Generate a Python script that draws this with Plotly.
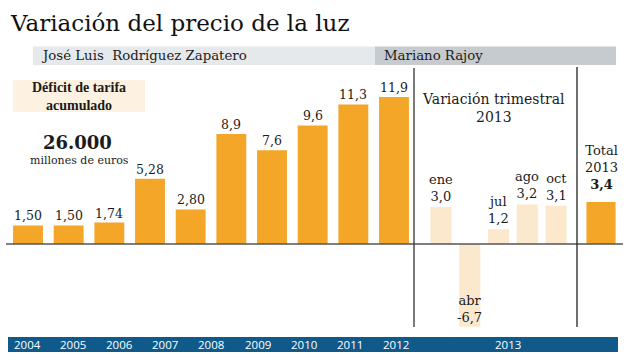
import plotly.graph_objects as go

# ---------------- data ----------------
years_bar = ["a1", "a2", "a3", "a4", "a5", "a6", "a7", "a8", "a9", "a10"]
annual_values = [1.50, 1.50, 1.74, 5.28, 2.80, 8.9, 7.6, 9.6, 11.3, 11.9]
annual_labels = ["1,50", "1,50", "1,74", "5,28", "2,80", "8,9", "7,6", "9,6", "11,3", "11,9"]

quarters = ["ene", "abr", "jul", "ago", "oct"]
quarter_values = [3.0, -6.7, 1.2, 3.2, 3.1]
quarter_labels = ["3,0", "-6,7", "1,2", "3,2", "3,1"]

total_cat = ["Total"]
total_values = [3.4]
total_labels = ["3,4"]

year_ticks = ["2004", "2005", "2006", "2007", "2008", "2009", "2010", "2011", "2012"]
year_2013 = "2013"

# ---------------- style ----------------
W, H = 644, 362
ORANGE = "#f4a628"
LIGHT = "#fce9cd"
SERIF = "DejaVu Serif, Liberation Serif, serif"
SERIF_B = "Liberation Serif, DejaVu Serif, serif"
SANS = "Open Sans, Lato, sans-serif"
TXT = "#1b1b1b"
PX_PER_UNIT = 12.35
ZERO_PX = 244


def px(x):
    return x / W


def py(y):
    return 1 - y / H


fig = go.Figure()

fig.add_trace(go.Bar(x=years_bar, y=annual_values, marker_color=ORANGE,
                     marker_line_width=0, xaxis="x", yaxis="y", hoverinfo="skip"))
fig.add_trace(go.Bar(x=quarters, y=quarter_values, marker_color=LIGHT,
                     marker_line_width=0, xaxis="x2", yaxis="y", hoverinfo="skip"))
fig.add_trace(go.Bar(x=total_cat, y=total_values, marker_color=ORANGE,
                     marker_line_width=0, xaxis="x3", yaxis="y", hoverinfo="skip"))

annotations = []
# title
annotations.append(dict(text="Variación del precio de la luz", xref="paper", yref="paper",
                        x=px(8), y=py(22.5), xanchor="left", yanchor="middle", showarrow=False,
                        font=dict(family=SERIF, size=23, color="#111")))
# header band texts
annotations.append(dict(text="José Luis\u00a0 Rodríguez Zapatero", xref="paper", yref="paper",
                        x=px(39), y=py(55.5), xanchor="left", yanchor="middle", showarrow=False,
                        font=dict(family=SERIF, size=13.3, color=TXT)))
annotations.append(dict(text="Mariano Rajoy", xref="paper", yref="paper",
                        x=px(382), y=py(55.5), xanchor="left", yanchor="middle", showarrow=False,
                        font=dict(family=SERIF, size=13.3, color=TXT)))
# left notes
annotations.append(dict(text="<b>Déficit de tarifa<br>acumulado</b>", xref="paper", yref="paper",
                        x=px(79), y=py(96), xanchor="center", yanchor="middle", showarrow=False,
                        font=dict(family=SERIF_B, size=14, color=TXT)))
annotations.append(dict(text="<b>26.000</b>", xref="paper", yref="paper",
                        x=px(77), y=py(143), xanchor="center", yanchor="middle", showarrow=False,
                        font=dict(family=SERIF, size=18, color=TXT)))
annotations.append(dict(text="millones de euros", xref="paper", yref="paper",
                        x=px(79), y=py(161), xanchor="center", yanchor="middle", showarrow=False,
                        font=dict(family=SERIF, size=11, color=TXT)))
# annual bar labels
for c, v, lab in zip(years_bar, annual_values, annual_labels):
    annotations.append(dict(text=lab, xref="x", yref="y", x=c, y=v, xanchor="center",
                            yanchor="bottom", showarrow=False, yshift=0,
                            font=dict(family=SERIF, size=12.5, color=TXT)))
# quarterly
annotations.append(dict(text="Variación trimestral<br>2013", xref="paper", yref="paper",
                        x=px(493), y=py(108), xanchor="center", yanchor="middle", showarrow=False,
                        font=dict(family=SERIF, size=14, color=TXT)))
for c, v, lab in zip(quarters, quarter_values, quarter_labels):
    annotations.append(dict(text=f"{c}<br>{lab}", xref="x2", yref="y", x=c, y=v,
                            xanchor="center", yanchor="bottom", showarrow=False,
                            yshift=1 if v > 0 else 0,
                            font=dict(family=SERIF, size=13, color=TXT)))
# total
for c, v, lab in zip(total_cat, total_values, total_labels):
    annotations.append(dict(text=f"Total<br>2013<br><b>{lab}</b>", xref="x3", yref="y", x=c, y=v,
                            xanchor="center", yanchor="bottom", showarrow=False, yshift=8,
                            font=dict(family=SERIF, size=13, color=TXT)))
# bottom band year labels
for i, t in enumerate(year_ticks):
    annotations.append(dict(text=t, xref="paper", yref="paper", x=px(27 + i * 46.1), y=py(344.5),
                            xanchor="center", yanchor="middle", showarrow=False,
                            font=dict(family=SANS, size=11.5, color="white")))
annotations.append(dict(text=year_2013, xref="paper", yref="paper", x=px(508), y=py(344.5),
                        xanchor="center", yanchor="middle", showarrow=False,
                        font=dict(family=SANS, size=11.5, color="white")))

shapes = [
    # header bands
    dict(type="rect", xref="paper", yref="paper", x0=px(33), x1=px(375), y0=py(65), y1=py(46.5),
         fillcolor="#e6e9ec", line_width=0, layer="below"),
    dict(type="rect", xref="paper", yref="paper", x0=px(375), x1=px(616), y0=py(65), y1=py(46.5),
         fillcolor="#c6cbd0", line_width=0, layer="below"),
    # deficit box
    dict(type="rect", xref="paper", yref="paper", x0=px(13), x1=px(145), y0=py(112), y1=py(80),
         fillcolor="#fdf1e1", line_width=0, layer="below"),
    # bottom band
    dict(type="rect", xref="paper", yref="paper", x0=px(8), x1=px(618), y0=py(352), y1=py(337),
         fillcolor="#0f5a8b", line_width=0, layer="below"),
    # zero line
    dict(type="line", xref="paper", yref="y", x0=px(6), x1=px(623), y0=0, y1=0,
         line=dict(color="#555555", width=1.5)),
    # separators
    dict(type="line", xref="paper", yref="paper", x0=px(414), x1=px(414), y0=py(68), y1=py(327),
         line=dict(color="#333333", width=1.3)),
    dict(type="line", xref="paper", yref="paper", x0=px(577), x1=px(577), y0=py(67), y1=py(327),
         line=dict(color="#222222", width=1.3)),
]

ax_hidden = dict(visible=False, showgrid=False, zeroline=False, fixedrange=True)

fig.update_layout(
    width=W, height=H,
    margin=dict(l=0, r=0, t=0, b=0),
    paper_bgcolor="white", plot_bgcolor="rgba(0,0,0,0)",
    showlegend=False,
    bargap=0.265,
    xaxis=dict(ax_hidden, domain=[px(28 - 20.33), px(394 + 20.33)], anchor="y",
               type="category", range=[-0.5, 9.5]),
    xaxis2=dict(ax_hidden, domain=[px(441 - 14.4), px(556 + 14.4)], anchor="y",
                type="category", range=[-0.5, 4.5]),
    xaxis3=dict(ax_hidden, domain=[px(601 - 19.8), px(601 + 19.8)], anchor="y",
                type="category", range=[-0.5, 0.5]),
    yaxis=dict(ax_hidden, domain=[0, 1],
               range=[-(H - ZERO_PX) / PX_PER_UNIT, ZERO_PX / PX_PER_UNIT]),
    annotations=annotations,
    shapes=shapes,
)

fig.write_html(
    "out.html",
    config={"displayModeBar": False, "staticPlot": True},
    post_script="document.body.style.margin='0';document.body.style.padding='0';"
                "document.documentElement.style.margin='0';document.body.style.overflow='hidden';",
)
